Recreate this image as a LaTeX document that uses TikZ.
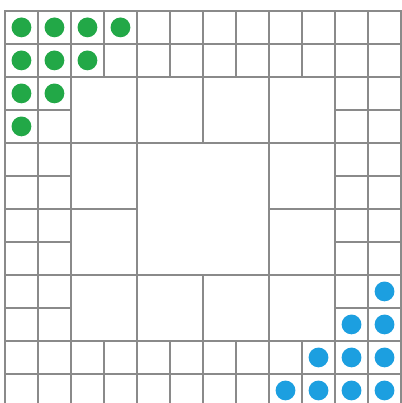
\documentclass[tikz,border=0pt]{standalone}
\usepackage{xcolor}
\definecolor{grid-line}{HTML}{8A8A8A}
\definecolor{dot-green}{HTML}{22A847}
\definecolor{dot-blue}{HTML}{1C9FE0}

\begin{document}
\begin{tikzpicture}[gridline/.style={draw=grid-line, line width=1.1pt},
    greendot/.style={circle, fill=dot-green, inner sep=0pt, minimum size=0.6cm},
    bluedot/.style={circle, fill=dot-blue, inner sep=0pt, minimum size=0.6cm}]
    \useasboundingbox (-0.15, 0.12) rectangle (12.0, 12.33);

    % full lines
    \draw[gridline] (0, 0) rectangle (12, 12);
    \draw[gridline] (1, 0) -- (1, 12);
    \draw[gridline] (2, 0) -- (2, 12);
    \draw[gridline] (4, 0) -- (4, 12);
    \draw[gridline] (8, 0) -- (8, 12);
    \draw[gridline] (10, 0) -- (10, 12);
    \draw[gridline] (11, 0) -- (11, 12);
    \draw[gridline] (0, 11) -- (12, 11);
    \draw[gridline] (0, 10) -- (12, 10);
    \draw[gridline] (0, 8) -- (12, 8);
    \draw[gridline] (0, 4) -- (12, 4);
    \draw[gridline] (0, 2) -- (12, 2);
    \draw[gridline] (0, 1) -- (12, 1);

    % 2x2 blocks
    \draw[gridline] (6, 8) -- (6, 12);
    \draw[gridline] (6, 0) -- (6, 4);
    \draw[gridline] (0, 6) -- (4, 6);
    \draw[gridline] (8, 6) -- (12, 6);

    % unit cells along the border
    \draw[gridline] (3, 10) -- (3, 12);
    \draw[gridline] (5, 10) -- (5, 12);
    \draw[gridline] (7, 10) -- (7, 12);
    \draw[gridline] (9, 10) -- (9, 12);
    \draw[gridline] (3, 0) -- (3, 2);
    \draw[gridline] (5, 0) -- (5, 2);
    \draw[gridline] (7, 0) -- (7, 2);
    \draw[gridline] (9, 0) -- (9, 2);
    \draw[gridline] (0, 9) -- (2, 9);
    \draw[gridline] (0, 7) -- (2, 7);
    \draw[gridline] (0, 5) -- (2, 5);
    \draw[gridline] (0, 3) -- (2, 3);
    \draw[gridline] (10, 9) -- (12, 9);
    \draw[gridline] (10, 7) -- (12, 7);
    \draw[gridline] (10, 5) -- (12, 5);
    \draw[gridline] (10, 3) -- (12, 3);

    % green corner
    \node[greendot] (g00) at (0.5, 11.5) {};
    \node[greendot] (g01) at (1.5, 11.5) {};
    \node[greendot] (g02) at (2.5, 11.5) {};
    \node[greendot] (g03) at (3.5, 11.5) {};
    \node[greendot] (g10) at (0.5, 10.5) {};
    \node[greendot] (g11) at (1.5, 10.5) {};
    \node[greendot] (g12) at (2.5, 10.5) {};
    \node[greendot] (g20) at (0.5, 9.5) {};
    \node[greendot] (g21) at (1.5, 9.5) {};
    \node[greendot] (g30) at (0.5, 8.5) {};

    % blue corner
    \node[bluedot] (b811) at (11.5, 3.5) {};
    \node[bluedot] (b910) at (10.5, 2.5) {};
    \node[bluedot] (b911) at (11.5, 2.5) {};
    \node[bluedot] (b109) at (9.5, 1.5) {};
    \node[bluedot] (b1010) at (10.5, 1.5) {};
    \node[bluedot] (b1011) at (11.5, 1.5) {};
    \node[bluedot] (b118) at (8.5, 0.5) {};
    \node[bluedot] (b119) at (9.5, 0.5) {};
    \node[bluedot] (b1110) at (10.5, 0.5) {};
    \node[bluedot] (b1111) at (11.5, 0.5) {};
  \end{tikzpicture}
\end{document}
